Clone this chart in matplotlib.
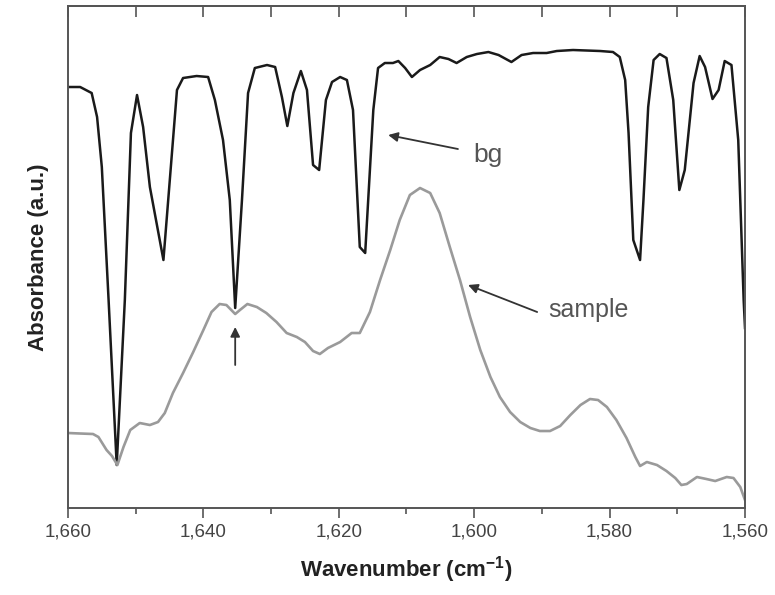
import matplotlib
matplotlib.use('Agg')
import matplotlib.pyplot as plt
from matplotlib.ticker import MultipleLocator, FixedLocator, FixedFormatter

plt.rcParams['font.family'] = ['Liberation Sans', 'DejaVu Sans']
plt.rcParams['mathtext.default'] = 'regular'

# background (bg) spectrum
bg_wn = [1660.0, 1658.2, 1656.5, 1655.7, 1655.0, 1654.0, 1652.8, 1651.6, 1650.7, 1649.8,
         1648.9, 1647.9, 1645.9, 1643.9, 1643.0, 1641.0, 1639.3, 1638.3, 1637.1, 1636.1,
         1635.3, 1634.3, 1633.4, 1632.4, 1630.6, 1629.4, 1628.4, 1627.6, 1626.7, 1625.6,
         1624.7, 1623.8, 1622.9, 1621.9, 1621.0, 1619.8, 1618.8, 1617.9, 1616.9, 1616.1,
         1614.9, 1614.2, 1613.2, 1612.0, 1611.2, 1610.2, 1609.2, 1608.0, 1606.5, 1605.1,
         1603.8, 1602.6, 1601.1, 1599.6, 1597.9, 1596.4, 1594.5, 1593.0, 1591.3, 1589.3,
         1587.8, 1585.4, 1581.4, 1579.5, 1578.5, 1577.7, 1577.2, 1576.5, 1575.5, 1575.0,
         1574.3, 1573.5, 1572.6, 1571.6, 1570.6, 1569.7, 1568.9, 1567.6, 1566.7, 1565.9,
         1564.8, 1563.9, 1563.0, 1562.0, 1561.0, 1560.2, 1560.0]
bg_abs = [4.21, 4.21, 4.15, 3.91, 3.41, 2.08, 0.43, 2.08, 3.75, 4.13,
          3.81, 3.21, 2.48, 4.18, 4.30, 4.32, 4.31, 4.08, 3.68, 3.08,
          2.00, 3.08, 4.15, 4.40, 4.43, 4.41, 4.11, 3.82, 4.15, 4.37,
          4.18, 3.43, 3.38, 4.08, 4.26, 4.31, 4.28, 3.98, 2.61, 2.55,
          3.98, 4.40, 4.45, 4.45, 4.47, 4.40, 4.31, 4.38, 4.43, 4.51,
          4.49, 4.45, 4.51, 4.54, 4.56, 4.53, 4.46, 4.53, 4.55, 4.55,
          4.57, 4.58, 4.57, 4.56, 4.51, 4.28, 3.75, 2.68, 2.48, 3.08,
          4.01, 4.48, 4.54, 4.50, 4.08, 3.18, 3.38, 4.25, 4.52, 4.41,
          4.09, 4.18, 4.47, 4.43, 3.68, 2.08, 1.80]

# sample spectrum
sample_wn = [1660.0, 1658.2, 1656.3, 1655.5, 1654.3, 1653.5, 1652.7, 1651.8, 1650.8, 1649.4,
             1647.9, 1646.7, 1645.7, 1644.5, 1643.0, 1641.5, 1640.0, 1638.8, 1637.6, 1636.6,
             1635.3, 1634.6, 1633.5, 1632.1, 1630.7, 1629.2, 1627.7, 1626.2, 1625.0, 1623.8,
             1622.8, 1621.6, 1619.8, 1618.1, 1616.9, 1615.4, 1613.9, 1612.4, 1611.0, 1609.5,
             1608.0, 1606.5, 1605.1, 1603.6, 1602.1, 1600.6, 1599.1, 1597.6, 1596.2, 1594.7,
             1593.2, 1591.7, 1590.3, 1588.8, 1587.3, 1585.8, 1584.3, 1582.9, 1581.7, 1580.4,
             1579.0, 1577.5, 1576.2, 1575.5, 1574.5, 1573.0, 1571.6, 1570.3, 1569.4, 1568.6,
             1567.1, 1565.7, 1564.4, 1562.7, 1561.7, 1560.7, 1560.0]
sample_abs = [0.75, 0.745, 0.74, 0.71, 0.58, 0.52, 0.43, 0.61, 0.78, 0.85,
              0.83, 0.86, 0.95, 1.15, 1.35, 1.56, 1.78, 1.96, 2.04, 2.03,
              1.94, 1.98, 2.04, 2.01, 1.95, 1.86, 1.75, 1.71, 1.66, 1.57,
              1.54, 1.60, 1.66, 1.75, 1.75, 1.96, 2.28, 2.58, 2.88, 3.13,
              3.20, 3.15, 2.95, 2.61, 2.28, 1.91, 1.58, 1.31, 1.11, 0.96,
              0.86, 0.80, 0.77, 0.77, 0.82, 0.93, 1.03, 1.09, 1.08, 1.01,
              0.88, 0.70, 0.51, 0.42, 0.46, 0.43, 0.37, 0.30, 0.23, 0.24,
              0.31, 0.29, 0.27, 0.31, 0.30, 0.21, 0.08]

tick_values = [1660, 1640, 1620, 1600, 1580, 1560]
tick_labels = ['1,660', '1,640', '1,620', '1,600', '1,580', '1,560']

fig = plt.figure(figsize=(7.75, 5.95), dpi=100)
ax = fig.add_axes([0.0877, 0.1462, 0.8736, 0.8437])

ax.plot(bg_wn, bg_abs, color='#1a1a1a', lw=1.8, solid_joinstyle='round')
ax.plot(sample_wn, sample_abs, color='#9a9a9a', lw=1.9, solid_joinstyle='round')

ax.set_xlim(1660, 1560)
ax.set_ylim(0, 5.02)

# axes styling
for s in ax.spines.values():
    s.set_color('#555555')
    s.set_linewidth(1.4)
ax.set_yticks([])
ax.xaxis.set_major_locator(FixedLocator(tick_values))
ax.xaxis.set_major_formatter(FixedFormatter(tick_labels))
ax.xaxis.set_minor_locator(MultipleLocator(10))
ax.tick_params(axis='x', which='major', direction='out', length=7, width=1.2,
               color='#555555', labelsize=13.5, labelcolor='#444444', pad=4)
ax.tick_params(axis='x', which='minor', direction='out', length=4, width=1.2,
               color='#555555')

top = ax.secondary_xaxis('top')
top.set_xticks(list(range(1560, 1661, 10)))
top.tick_params(direction='in', length=8, width=1.2, color='#555555', labeltop=False)
top.spines['top'].set_color('#555555')
top.spines['top'].set_linewidth(1.4)

ax.set_xlabel('Wavenumber (cm$^{-1}$)', fontsize=16, fontweight='bold', color='#222222', labelpad=10)
ax.set_ylabel('Absorbance (a.u.)', fontsize=16, fontweight='bold', color='#222222', labelpad=14)

# annotations
arrow = dict(arrowstyle='-|>', color='#333333', lw=1.3, mutation_scale=14, shrinkA=0, shrinkB=0)
ax.annotate('', xy=(1612.7, 3.73), xytext=(1602.4, 3.59), arrowprops=arrow)
ax.text(1600.2, 3.53, 'bg', fontsize=19, color='#555555', ha='left', va='center')
ax.annotate('', xy=(1600.9, 2.23), xytext=(1590.7, 1.96), arrowprops=arrow)
ax.text(1589.1, 1.98, 'sample', fontsize=18, color='#555555', ha='left', va='center')
ax.annotate('', xy=(1635.3, 1.81), xytext=(1635.3, 1.43), arrowprops=arrow)

fig.savefig('out.png', dpi=100)
